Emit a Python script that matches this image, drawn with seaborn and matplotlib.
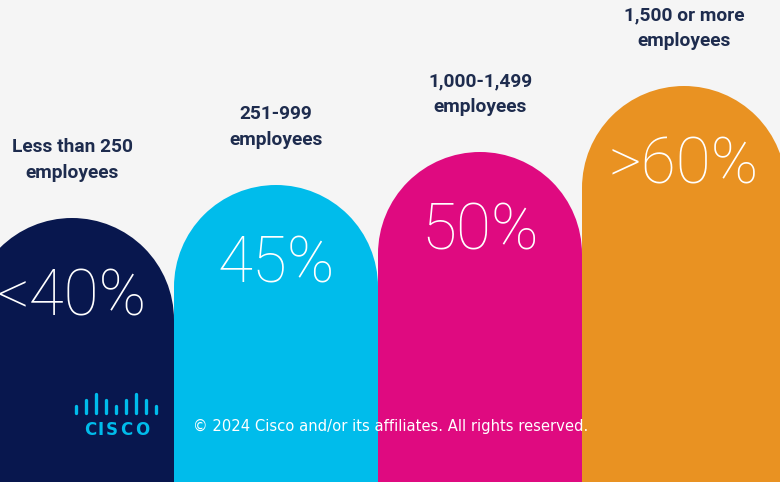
import numpy as np
import matplotlib
matplotlib.use("Agg")
import matplotlib.pyplot as plt
from matplotlib.patches import Ellipse
import seaborn as sns

# Data
groups = ["Less than 250\nemployees", "251-999\nemployees",
          "1,000-1,499\nemployees", "1,500 or more\nemployees"]
values = [40, 45, 50, 60]
value_labels = ["<40%", "45%", "50%", ">60%"]
colors = ["#08174e", "#00bceb", "#df0a80", "#e99222"]

BG = "#f5f5f5"
LABEL_COLOR = "#1e2c4e"

sns.set_theme(style="white")
plt.rcParams["font.family"] = ["Roboto", "DejaVu Sans"]

fig = plt.figure(figsize=(7.8, 4.82), dpi=100, facecolor=BG)
ax = fig.add_axes([0, 0, 1, 1])
ax.set_facecolor(BG)

# 1 x unit = 204 px, 1 y unit = 6.6 px
px_x = 204.0
px_y = 6.6
cap_r = 0.5 * px_x / px_y          # semicircle radius in y units
body = [v - cap_r for v in values]

sns.barplot(x=list(range(len(values))), y=body, hue=list(range(len(values))),
            palette=colors, width=1.0, saturation=1, linewidth=0,
            legend=False, ax=ax)

for i, (v, b, c, lab, g) in enumerate(zip(values, body, colors, value_labels, groups)):
    ax.add_patch(Ellipse((i, b), 1.0, 2 * cap_r, facecolor=c, edgecolor="none", zorder=2))
    ax.text(i, v - 12.1, lab, ha="center", va="center", color="white",
            fontsize=46, fontfamily=["Roboto", "DejaVu Sans"], fontweight=100, zorder=3)
    ax.text(i, v + 8.8, g, ha="center", va="center", color=LABEL_COLOR,
            fontsize=13.8, fontweight="bold", linespacing=1.55, zorder=3)

ax.set_xlim(-72 / px_x, (780 - 72) / px_x)
ax.set_ylim(0, 482 / px_y)
ax.axis("off")

# Cisco logo (footer decoration)
bar_h = [7, 13, 19, 13, 7, 13, 19, 13, 7]
for k, h in enumerate(bar_h):
    x = 76 + k * 10.0
    fig.add_artist(plt.Line2D([x / 780, x / 780], [1 - 413 / 482, 1 - (413 - h) / 482],
                              color="#00bceb", linewidth=2.4, solid_capstyle="round"))
for letter, lx in zip("CISCO", [90, 101, 112, 126, 142]):
    fig.text(lx / 780, 1 - 430 / 482, letter, ha="center", va="center", color="#00bceb",
             fontsize=12, fontweight="heavy", fontfamily=["DejaVu Sans"])

fig.text(193 / 780, 1 - 426 / 482, "\u00a9 2024 Cisco and/or its affiliates. All rights reserved.",
         ha="left", va="center", color="white", fontsize=10.6,
         fontfamily=["DejaVu Sans"])

fig.savefig("out.png", dpi=100, facecolor=BG)
